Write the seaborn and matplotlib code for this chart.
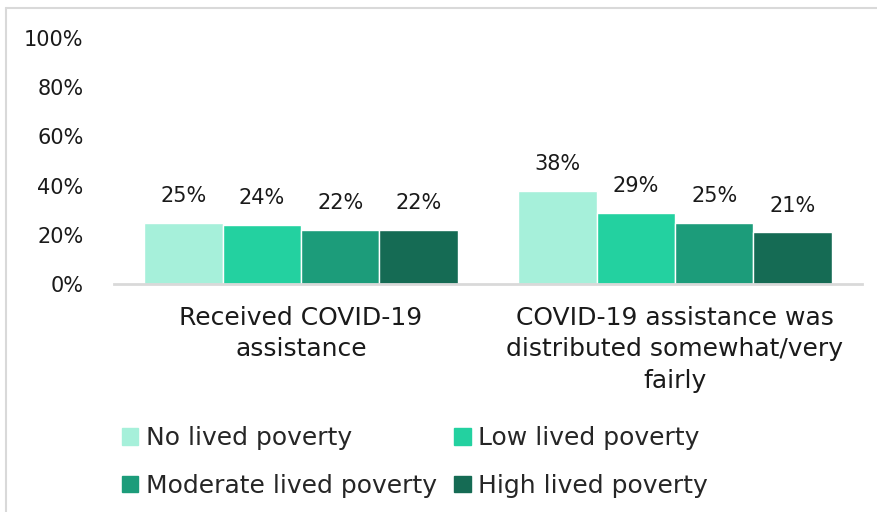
import matplotlib
matplotlib.use("Agg")
import matplotlib.pyplot as plt
from matplotlib.lines import Line2D
import seaborn as sns
import pandas as pd

questions = ["Received COVID-19\nassistance",
             "COVID-19 assistance was\ndistributed somewhat/very\nfairly"]
groups = ["No lived poverty", "Low lived poverty",
          "Moderate lived poverty", "High lived poverty"]
no_lp = [25, 38]
low_lp = [24, 29]
mod_lp = [22, 25]
high_lp = [22, 21]
colors = ["#A6F0DA", "#23D1A0", "#1C9C7A", "#156B54"]

rows = []
for g, vals in zip(groups, [no_lp, low_lp, mod_lp, high_lp]):
    for q, v in zip(questions, vals):
        rows.append({"Question": q, "Group": g, "Value": v})
df = pd.DataFrame(rows)

sns.set_theme(style="white")
plt.rcParams["font.family"] = ["DejaVu Sans"]

fig = plt.figure(figsize=(8.78, 5.12), dpi=100)
ax = fig.add_axes([114 / 878, 1 - 284 / 512, 748 / 878, 246 / 512])

sns.barplot(data=df, x="Question", y="Value", hue="Group", order=questions,
            hue_order=groups, palette=colors, width=0.837, ax=ax,
            edgecolor="white", linewidth=1, saturation=1, errorbar=None)

for cont in ax.containers:
    ax.bar_label(cont, labels=[f"{int(round(b.get_height()))}%" for b in cont],
                 padding=12, fontsize=15, color="#1a1a1a")

ax.set_ylim(0, 100)
ax.set_yticks([0, 20, 40, 60, 80, 100])
ax.set_yticklabels([f"{t}%" for t in [0, 20, 40, 60, 80, 100]], fontsize=15, color="#1a1a1a")
ax.tick_params(axis="x", labelsize=18, colors="#1a1a1a", pad=16, length=0)
ax.tick_params(axis="y", length=0, pad=22)
for lbl in ax.get_xticklabels():
    lbl.set_linespacing(1.38)
ax.set_xlabel("")
ax.set_ylabel("")
for s in ["top", "right", "left"]:
    ax.spines[s].set_visible(False)
ax.spines["bottom"].set_color("#d9d9d9")
ax.spines["bottom"].set_linewidth(2)

ax.get_legend().remove()
# matplotlib fills columns first; reorder so rows read No/Low then Moderate/High
order = [0, 2, 1, 3]
handles = [plt.Rectangle((0, 0), 1, 1, color=colors[i]) for i in order]
fig.legend(handles, [groups[i] for i in order], ncol=2, loc="upper left",
           bbox_to_anchor=(122 / 878, 1 - 426 / 512), frameon=False, fontsize=18,
           handlelength=0.65, handleheight=0.65, handletextpad=0.3,
           columnspacing=0.7, labelspacing=0.95, borderaxespad=0,
           borderpad=0)

# chart-area frame: only the top and left edges fall inside the image
fig.add_artist(Line2D([6 / 878, 6 / 878], [0, 1 - 8 / 512], transform=fig.transFigure,
                      color="#d9d9d9", linewidth=1.5))
fig.add_artist(Line2D([6 / 878, 1], [1 - 8 / 512, 1 - 8 / 512], transform=fig.transFigure,
                      color="#d9d9d9", linewidth=1.5))

fig.savefig("out.png", dpi=100)
